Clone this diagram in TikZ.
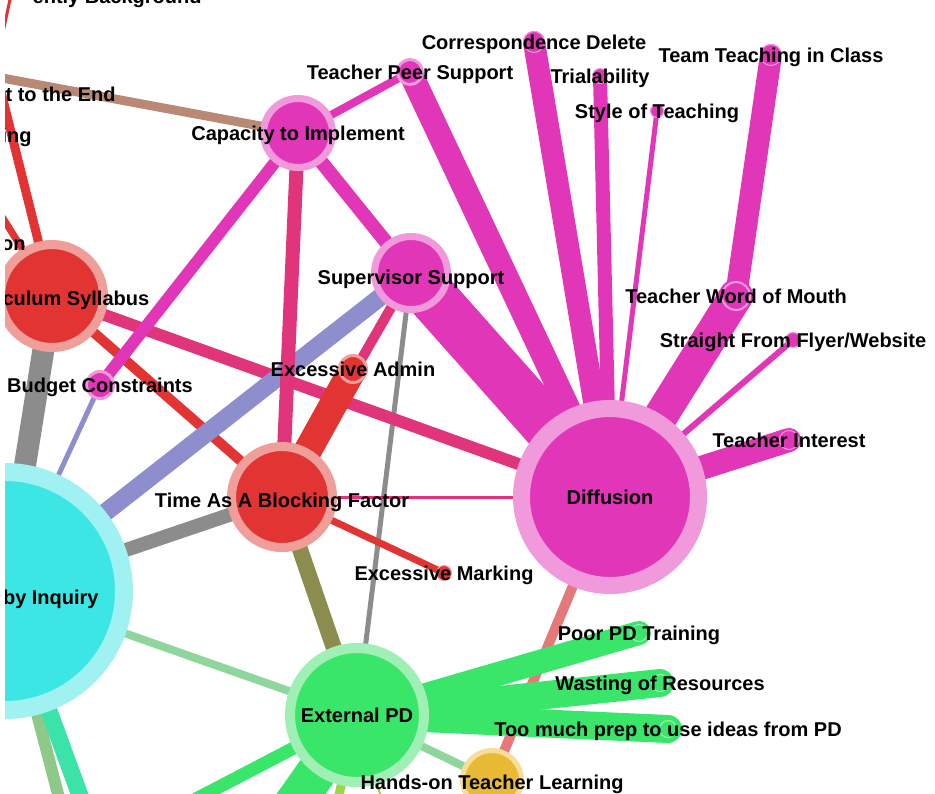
\documentclass[tikz,border=0pt]{standalone}
\usepackage{fontspec}
\setmainfont{Liberation Sans}
\pgfdeclarelayer{background}
\pgfsetlayers{background,main}

\definecolor{mag}{HTML}{E236B8}
\definecolor{magring}{HTML}{F09ADC}
\definecolor{nred}{HTML}{E33434}
\definecolor{nredring}{HTML}{F09E9A}
\definecolor{crim}{HTML}{E0357A}
\definecolor{cyanc}{HTML}{3CE6E4}
\definecolor{cyanring}{HTML}{A0F1F1}
\definecolor{grn}{HTML}{3AE66A}
\definecolor{grnring}{HTML}{A0F0B6}
\definecolor{gold}{HTML}{E8BA35}
\definecolor{goldring}{HTML}{F6DE98}
\definecolor{gry}{HTML}{8C8C8C}
\definecolor{lav}{HTML}{8E8ECF}
\definecolor{olive}{HTML}{8C8C4E}
\definecolor{brn}{HTML}{B88A76}
\definecolor{salm}{HTML}{E57878}
\definecolor{lgrn}{HTML}{8ED69B}
\definecolor{sage}{HTML}{8FC98A}
\definecolor{teal}{HTML}{3CE3A8}
\definecolor{ygrn}{HTML}{9AD74C}

\tikzset{
	bub/.style n args={4}{
			circle, inner sep=0pt, fill=#1, draw=#2,
			line width=#4*0.5pt, minimum size={(2*#3-#4)*0.5pt}},
	lbl/.style={font=\bfseries\fontsize{10}{12}\selectfont, text=black,
			inner sep=0pt, text height=7.2pt, text depth=0pt},
	link/.style={line cap=round, line width=#1*0.5pt}
}

\begin{document}
\begin{tikzpicture}[x=0.5pt, y=-0.5pt]
        % Frame
        \useasboundingbox (0,0) rectangle (935,793);
        \clip (5,0) rectangle (935,793);

        % Big hubs
        \node[bub={cyanc}{cyanring}{128}{18}] (inq) at (5,591) {};
        \node[bub={nred}{nredring}{56}{9}, label={[lbl, yshift=-1pt]center:Curriculum Syllabus}] (curr) at (52,296) {};
        \node[bub={nred}{nredring}{55}{9}, label={[lbl, yshift=-1.5pt]center:Time As A Blocking Factor}] (time) at (282,497) {};
        \node[bub={grn}{grnring}{72}{10}, label={[lbl]center:External PD}] (ext) at (357,715) {};
        \node[bub={mag}{magring}{97}{17}, label={[lbl]center:Diffusion}] (diff) at (610,497) {};
        \node[bub={mag}{magring}{38}{7}, label={[lbl]center:Capacity to Implement}] (cap) at (298,133) {};
        \node[bub={mag}{magring}{40}{7}, label={[lbl, yshift=-2pt]center:Supervisor Support}] (sup) at (411,273) {};
        \node[bub={gold}{goldring}{32}{5}, label={[lbl, yshift=-1pt]center:Hands-on Teacher Learning}] (hands) at (492,780) {};

        % Small nodes
        \node[bub={mag}{magring}{14}{3}, label={[lbl]center:Teacher Peer Support}] (tps) at (410,72) {};
        \node[bub={mag}{magring}{15}{3}, label={[lbl]center:Budget Constraints}] (budget) at (100,385) {};
        \node[bub={nred}{nredring}{15}{3}, label={[lbl]center:Excessive Admin}] (admin) at (353,369) {};
        \node[bub={nred}{nredring}{8}{1}, label={[lbl]center:Excessive Marking}] (marking) at (444,573) {};
        \node[bub={mag}{magring}{11}{1}, label={[lbl]center:Correspondence Delete}] (corr) at (534,42) {};
        \node[bub={mag}{magring}{8}{1}, label={[lbl]center:Trialability}] (trial) at (600,76) {};
        \node[bub={mag}{magring}{7}{1}, label={[lbl]center:Style of Teaching}] (style) at (657,111) {};
        \node[bub={mag}{magring}{11}{1}, label={[lbl]center:Team Teaching in Class}] (team) at (771,55) {};
        \node[bub={mag}{magring}{15}{2}, label={[lbl]center:Teacher Word of Mouth}] (twom) at (736,296) {};
        \node[bub={mag}{magring}{8}{1}, label={[lbl]center:Straight From Flyer/Website}] (flyer) at (793,340) {};
        \node[bub={mag}{magring}{10}{1}, label={[lbl]center:Teacher Interest}] (interest) at (789,440) {};
        \node[bub={grn}{grnring}{9}{1}, label={[lbl]center:Poor PD Training}] (poor) at (639,633) {};
        \node[bub={grn}{grnring}{9}{1}, label={[lbl]center:Wasting of Resources}] (waste) at (660,683) {};
        \node[bub={grn}{grnring}{9}{1}, label={[lbl]center:Too much prep to use ideas from PD}] (prep) at (668,729) {};

        % Labels cut by the frame
        \node[lbl, anchor=east] (inqlbl) at (99,597) {by Inquiry};
        \node[lbl, anchor=east] (endlbl) at (116,94) {t to the End};
        \node[lbl, anchor=east] (inglbl) at (32,135) {ing};
        \node[lbl, anchor=east] (onlbl) at (26,243) {on};
        \node[lbl, anchor=east] (bglbl) at (202,-4) {ently Background};

        % Ends outside the frame
        \coordinate (brnend) at (-100,59);
        \coordinate (redendA) at (-47,-100);
        \coordinate (redendB) at (-40,150);
        \coordinate (redtipA) at (-5,70);
        \coordinate (redtipB) at (12,-10);
        \coordinate (sageend) at (70,840);
        \coordinate (tealend) at (100,850);
        \coordinate (grnendA) at (150,823);
        \coordinate (grnendB) at (272,835);
        \coordinate (ygrnend) at (330,835);
        \coordinate (ygrnthin) at (392,835);

        \begin{pgfonlayer}{background}
        \fill[white] (0,0) rectangle (935,793);
        \clip (5,0) rectangle (935,793);

        % Edges leaving the picture
        \draw[link=9, brn] (cap.center) -- (brnend);
        \draw[link=9, nred] (curr.center) -- (redendA);
        \draw[link=7, nred] (curr.center) -- (redendB);
        \draw[link=3, nred] (redtipA) -- (redtipB);
        \draw[link=12, sage] (inq.center) -- (sageend);
        \draw[link=17, teal] (inq.center) -- (tealend);
        \draw[link=13, grn] (ext.center) -- (grnendA);
        \draw[link=40, grn] (ext.center) -- (grnendB);
        \draw[link=9, ygrn] (ext.center) -- (ygrnend);
        \draw[link=2, ygrn] (ext.center) -- (ygrnthin);

        % Grey, lavender and green links
        \draw[link=22, gry] (curr.center) -- (inq.center);
        \draw[link=14, gry] (inq.center) -- (time.center);
        \draw[link=5, gry] (sup.center) -- (ext.center);
        \draw[link=5, lav] (budget.center) -- (inq.center);
        \draw[link=8, lgrn] (inq.center) -- (ext.center);
        \draw[link=8, lgrn] (ext.center) -- (hands.center);
        \draw[link=16, olive] (time.center) -- (ext.center);

        % Red and crimson links
        \draw[link=10, nred] (curr.center) -- (time.center);
        \draw[link=12, crim] (curr.center) -- (diff.center);
        \draw[link=18, lav] (inq.center) -- (sup.center);
        \draw[link=14, crim] (cap.center) -- (time.center);
        \draw[link=10, crim] (sup.center) -- (time.center);
        \draw[link=28, nred] (admin.center) -- (time.center);
        \draw[link=7, nred] (time.center) -- (marking.center);
        \draw[link=3, crim] (time.center) -- (diff.center);
        \draw[link=10, salm] (diff.center) -- (hands.center);

        % Magenta links
        \draw[link=12, mag] (cap.center) -- (budget.center);
        \draw[link=14, mag] (cap.center) -- (sup.center);
        \draw[link=8, mag] (cap.center) -- (tps.center);
        \draw[link=22, mag] (team.center) -- (twom.center);
        \foreach \n/\w in {tps/24, corr/22, trial/14, style/5, flyer/6, interest/24, twom/34, sup/50} {
            \draw[link=\w, mag] (diff.center) -- (\n.center);
        }

        % Green fan
        \foreach \n/\w in {poor/24, waste/28, prep/28} {
            \draw[link=\w, grn] (ext.center) -- (\n.center);
        }
        \end{pgfonlayer}

    \end{tikzpicture}
\end{document}
